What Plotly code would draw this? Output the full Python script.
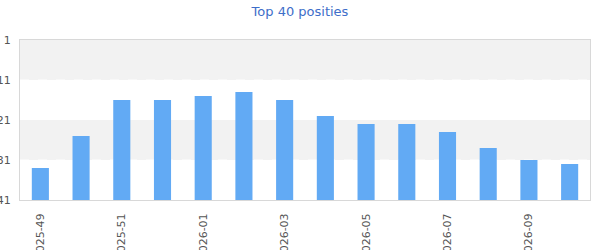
import plotly.graph_objects as go

weeks = ["2025-49", "2025-50", "2025-51", "2025-52", "2026-01", "2026-02", "2026-03",
         "2026-04", "2026-05", "2026-06", "2026-07", "2026-08", "2026-09", "2026-10"]
positions = [33, 25, 16, 16, 15, 14, 16, 20, 22, 22, 24, 28, 31, 32]
tick_weeks = weeks[::2]
y_ticks = [1, 11, 21, 31, 41]
bottom_pos = 41
gray_bands = [(1, 11), (21, 31)]

fig = go.Figure()
fig.add_trace(go.Bar(
    x=weeks,
    y=[p - bottom_pos for p in positions],
    base=bottom_pos,
    marker=dict(color="#62aaf4", line=dict(width=0)),
    width=0.42,
    customdata=positions,
    hovertemplate="%{x}: %{customdata}<extra></extra>",
))

for lo, hi in gray_bands:
    fig.add_shape(type="rect", xref="paper", yref="y", x0=0, x1=1, y0=lo, y1=hi,
                  fillcolor="#f2f2f2", line=dict(width=0), layer="below")
for lo, hi in gray_bands:
    fig.add_shape(type="line", xref="paper", yref="y", x0=0, x1=1, y0=hi, y1=hi,
                  line=dict(color="white", width=1, dash="dash"), layer="below")

fig.update_layout(
    width=600, height=250,
    margin=dict(l=20, r=10, t=40, b=50),
    paper_bgcolor="white", plot_bgcolor="white",
    showlegend=False,
    title=dict(text="Top 40 posities", x=0.5, xanchor="center", y=0.955, yanchor="middle",
               font=dict(family="DejaVu Sans", size=13, color="#3e6ec9")),
    font=dict(family="DejaVu Sans", size=11, color="#555555"),
)
fig.update_xaxes(
    type="category", categoryorder="array", categoryarray=weeks,
    tickmode="array", tickvals=tick_weeks, ticktext=tick_weeks,
    tickangle=-90, showgrid=False, automargin=False,
    showline=True, linecolor="#d8d8d8", linewidth=1, mirror=True,
    ticks="", ticklabelstandoff=8, zeroline=False,
    tickfont=dict(size=11, color="#555555"),
)
fig.update_yaxes(
    range=[41, 1], tickmode="array", tickvals=y_ticks,
    showgrid=False,
    showline=True, linecolor="#d8d8d8", linewidth=1, mirror=True,
    ticks="", automargin=False, zeroline=False, ticklabelstandoff=6,
    tickfont=dict(size=11, color="#555555"),
)
fig.write_html("out.html")
